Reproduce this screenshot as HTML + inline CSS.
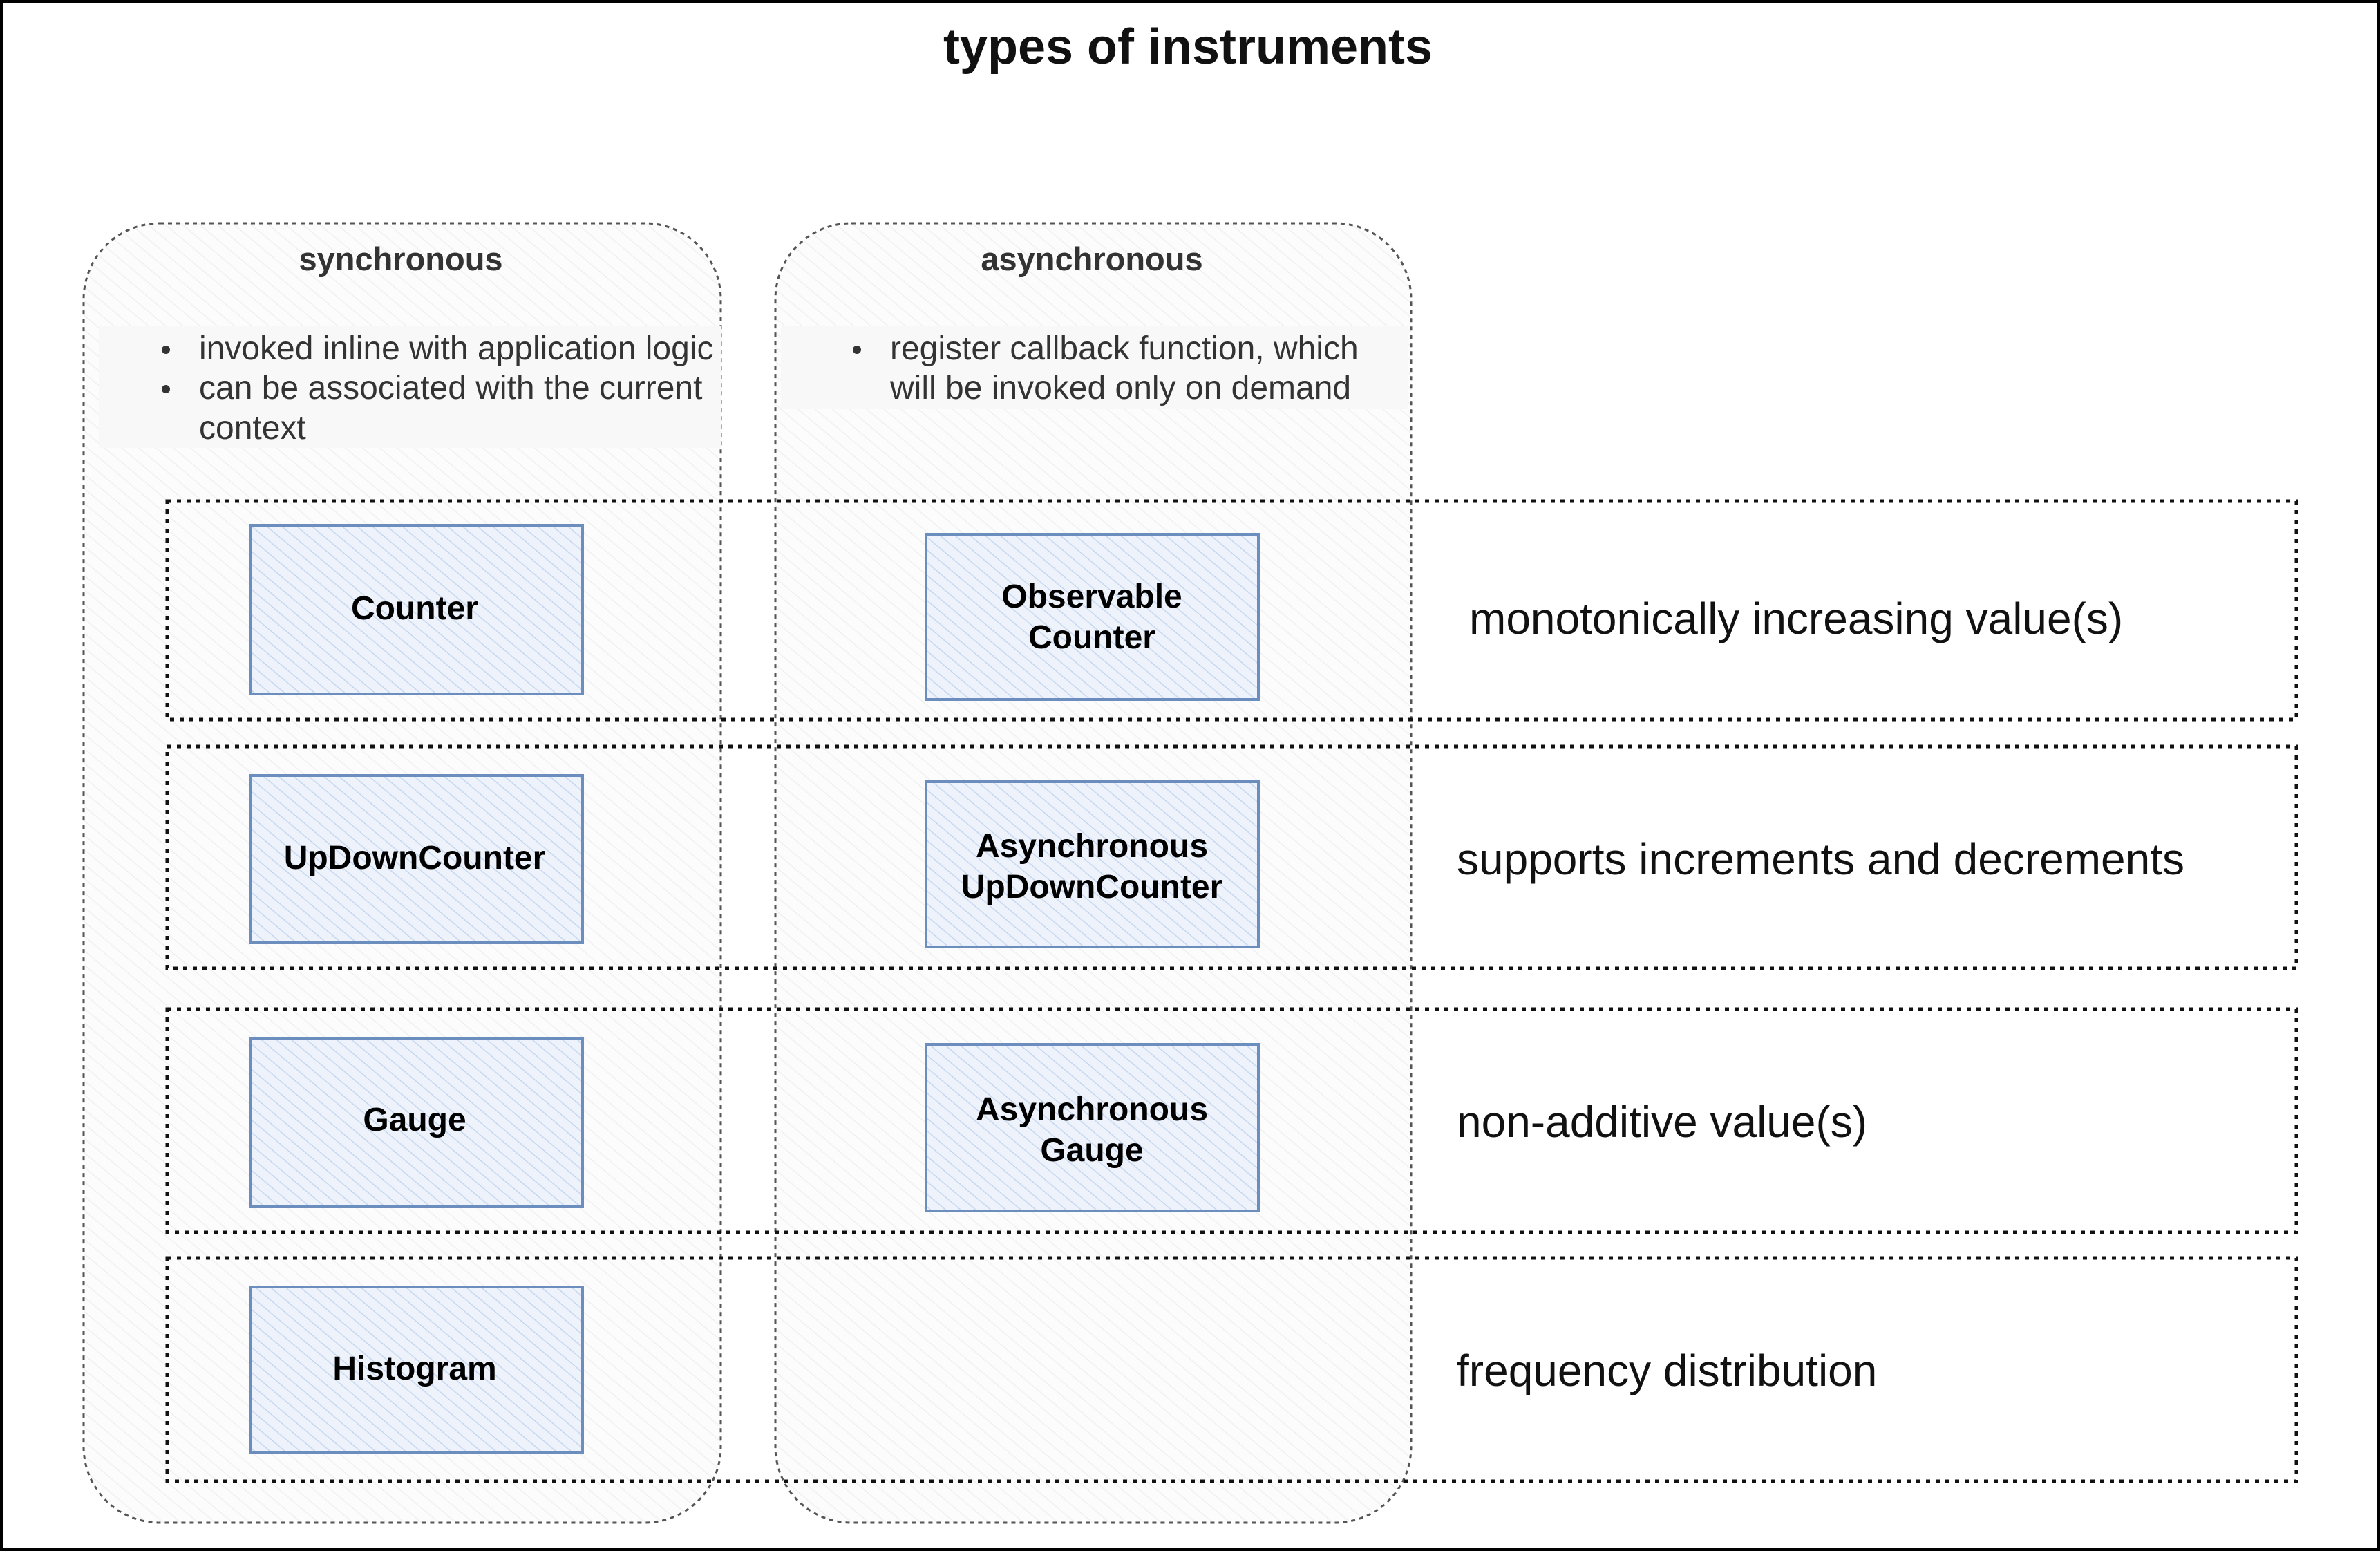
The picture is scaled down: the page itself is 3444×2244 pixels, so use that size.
<!DOCTYPE html>
<html><head><meta charset="utf-8"><style>
html,body{margin:0;padding:0;background:#fff;}
svg{display:block;}
text{font-family:"Liberation Sans",Arial,sans-serif;}
</style></head><body>
<svg width="3444" height="2244" viewBox="0 0 3444 2244" xmlns="http://www.w3.org/2000/svg">
<defs>
<pattern id="hb" width="14" height="14" patternUnits="userSpaceOnUse" patternTransform="rotate(-50)">
<rect width="14" height="14" fill="#eef3fb"/><line x1="0" y1="0" x2="0" y2="14" stroke="#c5d6f0" stroke-width="3"/></pattern>
<pattern id="hg" width="16" height="16" patternUnits="userSpaceOnUse" patternTransform="rotate(-50)">
<rect width="16" height="16" fill="#fcfcfc"/><line x1="0" y1="0" x2="0" y2="16" stroke="#f0f0f0" stroke-width="3"/></pattern>
</defs>
<rect x="2" y="2" width="3440" height="2240" fill="#fff" stroke="#000" stroke-width="4"/>
<text x="1719" y="92" font-size="72" font-weight="bold" text-anchor="middle" fill="#111">types of instruments</text>
<rect x="121" y="323" width="922" height="1880" rx="110" fill="url(#hg)" stroke="#555" stroke-width="3" stroke-dasharray="6 6"/>
<rect x="1122" y="323" width="920" height="1880" rx="110" fill="url(#hg)" stroke="#555" stroke-width="3" stroke-dasharray="6 6"/>
<text x="580" y="391" font-size="47" font-weight="bold" text-anchor="middle" fill="#333">synchronous</text>
<text x="1580" y="391" font-size="47" font-weight="bold" text-anchor="middle" fill="#333">asynchronous</text>
<rect x="143" y="472" width="900" height="176" fill="#f8f8f8"/>
<rect x="1130" y="472" width="908" height="120" fill="#f8f8f8"/>
<g font-size="48" fill="#333">
<circle cx="240" cy="506" r="6" fill="#333"/><text x="288" y="520">invoked inline with application logic</text>
<circle cx="240" cy="563" r="6" fill="#333"/><text x="288" y="577">can be associated with the current</text>
<text x="288" y="635">context</text>
<circle cx="1240" cy="506" r="6" fill="#333"/><text x="1288" y="520">register callback function, which</text>
<text x="1288" y="577">will be invoked only on demand</text>
</g>
<g fill="none" stroke="#111" stroke-width="5" stroke-dasharray="6 8">
<rect x="242" y="725" width="3081" height="316"/>
<rect x="242" y="1080" width="3081" height="321"/>
<rect x="242" y="1460" width="3081" height="323"/>
<rect x="242" y="1820" width="3081" height="323"/>
</g>
<g fill="url(#hb)" stroke="#6c8ebf" stroke-width="4">
<rect x="362" y="760" width="481" height="244"/>
<rect x="362" y="1122" width="481" height="242"/>
<rect x="362" y="1502" width="481" height="244"/>
<rect x="362" y="1862" width="481" height="240"/>
<rect x="1340" y="773" width="481" height="239"/>
<rect x="1340" y="1131" width="481" height="239"/>
<rect x="1340" y="1511" width="481" height="241"/>
</g>
<g font-size="48" font-weight="bold" text-anchor="middle" fill="#000">
<text x="600" y="896">Counter</text>
<text x="600" y="1257">UpDownCounter</text>
<text x="600" y="1636">Gauge</text>
<text x="600" y="1996">Histogram</text>
<text x="1580" y="879">Observable</text><text x="1580" y="938">Counter</text>
<text x="1580" y="1240">Asynchronous</text><text x="1580" y="1299">UpDownCounter</text>
<text x="1580" y="1621">Asynchronous</text><text x="1580" y="1680">Gauge</text>
</g>
<g font-size="64" fill="#111">
<text x="2126" y="917">monotonically increasing value(s)</text>
<text x="2108" y="1265">supports increments and decrements</text>
<text x="2108" y="1645">non-additive value(s)</text>
<text x="2108" y="2005">frequency distribution</text>
</g>
</svg>
</body></html>
